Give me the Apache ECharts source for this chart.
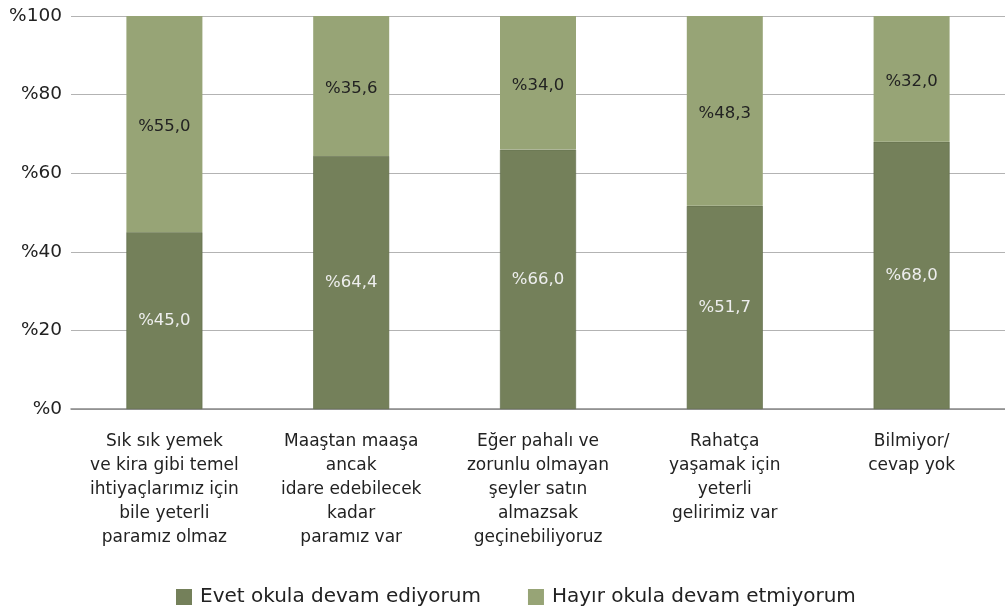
<!DOCTYPE html>
<html>
<head>
<meta charset="utf-8">
<script src="https://cdn.jsdelivr.net/npm/echarts@6/dist/echarts.min.js"></script>
<style>
  html, body { margin: 0; padding: 0; background: #fff; }
  #chart { width: 1005px; height: 611px; }
</style>
</head>
<body>
<div id="chart"></div>
<script>
// kategoriler (satır sonları resimdeki gibi)
const categories = [
  'Sık sık yemek\nve kira gibi temel\nihtiyaçlarımız için\nbile yeterli\nparamız olmaz',
  'Maaştan maaşa\nancak\nidare edebilecek\nkadar\nparamız var',
  'Eğer pahalı ve\nzorunlu olmayan\nşeyler satın\nalmazsak\ngeçinebiliyoruz',
  'Rahatça\nyaşamak için\nyeterli\ngelirimiz var',
  'Bilmiyor/\ncevap yok'
];
const evetValues = [45.0, 64.4, 66.0, 51.7, 68.0];
const hayirValues = [55.0, 35.6, 34.0, 48.3, 32.0];
const yTicks = [0, 20, 40, 60, 80, 100];

const fontFamily = 'DejaVu Sans';
const fmt = (p) => '%' + p.value.toFixed(1).replace('.', ',');

const option = {
  animation: false,
  textStyle: { fontFamily: fontFamily },
  grid: { left: 71, right: -6, top: 16, bottom: 202 },
  legend: {
    bottom: -1,
    left: 171,
    icon: 'rect',
    itemWidth: 16,
    itemHeight: 16,
    itemGap: 47,
    itemStyle: { borderWidth: 0 },
    textStyle: { fontSize: 20, color: '#222', fontFamily: fontFamily, padding: [0, 0, 0, 3] },
    data: ['Evet okula devam ediyorum', 'Hayır okula devam etmiyorum']
  },
  xAxis: {
    type: 'category',
    data: categories,
    axisTick: { show: false },
    axisLine: { lineStyle: { color: '#888', width: 1.5 } },
    axisLabel: {
      interval: 0,
      margin: 21,
      fontSize: 17,
      lineHeight: 24,
      color: '#222',
      fontFamily: fontFamily
    }
  },
  yAxis: {
    type: 'value',
    min: yTicks[0],
    max: yTicks[yTicks.length - 1],
    interval: 20,
    axisLine: { show: false },
    axisTick: { show: false },
    splitLine: { lineStyle: { color: '#b3b3b3', width: 1 } },
    axisLabel: {
      margin: 9,
      fontSize: 18.5,
      color: '#222',
      fontFamily: fontFamily,
      formatter: (v) => '%' + v
    }
  },
  series: [
    {
      name: 'Evet okula devam ediyorum',
      type: 'bar',
      stack: 'toplam',
      barWidth: 76,
      data: evetValues,
      itemStyle: { color: '#74805a', borderColor: '#5e6947', borderWidth: 0.6 },
      label: {
        show: true,
        position: 'inside',
        formatter: fmt,
        fontSize: 16.5,
        color: '#eeeeee',
        fontFamily: fontFamily
      }
    },
    {
      name: 'Hayır okula devam etmiyorum',
      type: 'bar',
      stack: 'toplam',
      barWidth: 76,
      data: hayirValues,
      itemStyle: { color: '#97a476' },
      label: {
        show: true,
        position: 'inside',
        offset: [0, 3],
        formatter: fmt,
        fontSize: 16.5,
        color: '#222',
        fontFamily: fontFamily
      }
    }
  ]
};

const myChart = echarts.init(document.getElementById('chart'), null, { renderer: 'canvas' });
myChart.setOption(option, true);
</script>
</body>
</html>
